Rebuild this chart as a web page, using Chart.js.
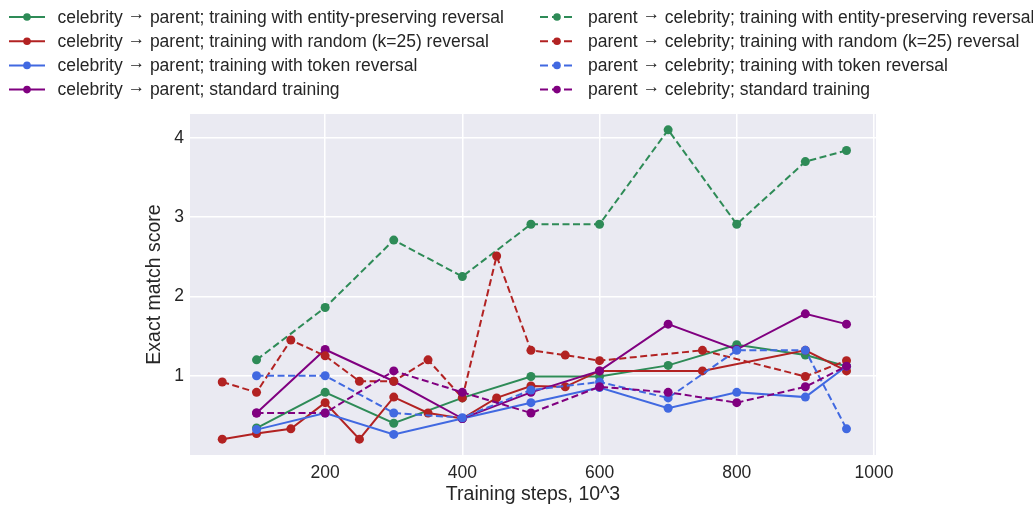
<!DOCTYPE html>
<html>
<head>
<meta charset="utf-8">
<script src="https://cdn.jsdelivr.net/npm/chart.js@4.4.0/dist/chart.umd.min.js"></script>
<style>
html, body { margin: 0; padding: 0; background: #fff; }
</style>
</head>
<body>
<canvas id="chart" width="1033" height="506"></canvas>
<script>
// steps (x 10^3)
const stepsFull = [50, 100, 150, 200, 250, 300, 350, 400, 450, 500, 550, 600, 750, 900, 960];
const stepsMain = [100, 200, 300, 400, 500, 600, 700, 800, 900, 960];

// celebrity -> parent
const cpEntity   = [0.34, 0.79, 0.40, 0.72, 0.99, 0.99, 1.13, 1.39, 1.26, 1.12];
const cpRandom   = [0.20, 0.27, 0.33, 0.66, 0.20, 0.73, 0.53, 0.46, 0.72, 0.87, 0.86, 1.06, 1.06, 1.32, 1.06];
const cpToken    = [0.32, 0.53, 0.26, 0.46, 0.66, 0.85, 0.59, 0.79, 0.73, 1.12];
const cpStandard = [0.53, 1.33, 0.93, 0.46, 0.79, 1.06, 1.65, 1.33, 1.78, 1.65];

// parent -> celebrity
const pcEntity   = [1.20, 1.86, 2.71, 2.25, 2.91, 2.91, 4.10, 2.91, 3.70, 3.84];
const pcRandom   = [0.92, 0.79, 1.45, 1.25, 0.93, 0.93, 1.20, 0.72, 2.51, 1.32, 1.26, 1.19, 1.32, 0.99, 1.19];
const pcToken    = [1.00, 1.00, 0.53, 0.47, 0.82, 0.92, 0.72, 1.32, 1.32, 0.33];
const pcStandard = [0.53, 0.53, 1.06, 0.79, 0.53, 0.86, 0.79, 0.66, 0.86, 1.12];

const xTicks = [200, 400, 600, 800, 1000];
const yTicks = [1, 2, 3, 4];

const GREEN = '#2e8b57', RED = '#b22222', BLUE = '#4169e1', PURPLE = '#800080';
const TXT = '#262626';
const FONT = '"Liberation Sans", Arial, sans-serif';

function pts(xs, ys) {
    return ys.map((y, i) => ({ x: xs[i], y: y }));
}

function serie(label, xs, ys, color, dashed) {
    return {
        label: label,
        data: pts(xs, ys),
        borderColor: color,
        backgroundColor: color,
        pointBackgroundColor: color,
        pointBorderWidth: 0,
        pointRadius: 4.5,
        borderWidth: 2,
        borderDash: dashed ? [7, 3.5] : [],
        tension: 0
    };
}

let datasets = [
    serie('celebrity \u2192 parent; training with entity-preserving reversal', stepsMain, cpEntity, GREEN, false),
    serie('celebrity \u2192 parent; training with random (k=25) reversal', stepsFull, cpRandom, RED, false),
    serie('celebrity \u2192 parent; training with token reversal', stepsMain, cpToken, BLUE, false),
    serie('celebrity \u2192 parent; standard training', stepsMain, cpStandard, PURPLE, false),
    serie('parent \u2192 celebrity; training with entity-preserving reversal', stepsMain, pcEntity, GREEN, true),
    serie('parent \u2192 celebrity; training with random (k=25) reversal', stepsFull, pcRandom, RED, true),
    serie('parent \u2192 celebrity; training with token reversal', stepsMain, pcToken, BLUE, true),
    serie('parent \u2192 celebrity; standard training', stepsMain, pcStandard, PURPLE, true)
];
// later series on top, like matplotlib
datasets.forEach((d, i) => { d.order = datasets.length - i; });

const bgPlugin = {
    id: 'bg',
    beforeDraw(chart) {
        const a = chart.chartArea;
        const ctx = chart.ctx;
        ctx.save();
        ctx.fillStyle = '#eaeaf2';
        ctx.fillRect(a.left, a.top, a.right - a.left, a.bottom - a.top);
        ctx.restore();
    }
};

// two column legend on top
const legendPlugin = {
    id: 'twoColLegend',
    afterDraw(chart) {
        const ctx = chart.ctx;
        ctx.save();
        ctx.font = '17.5px ' + FONT;
        ctx.textBaseline = 'middle';
        chart.data.datasets.forEach((ds, i) => {
            const col = i < 4 ? 0 : 1;
            const y = 17 + (i % 4) * 24.2;
            const x0 = col === 0 ? 9 : 540;
            const x1 = col === 0 ? 45 : 574;
            ctx.strokeStyle = ds.borderColor;
            ctx.lineWidth = 2;
            ctx.setLineDash(ds.borderDash.length ? [8, 4] : []);
            ctx.beginPath();
            ctx.moveTo(x0, y);
            ctx.lineTo(x1, y);
            ctx.stroke();
            ctx.setLineDash([]);
            ctx.fillStyle = ds.borderColor;
            ctx.beginPath();
            ctx.arc((x0 + x1) / 2, y, 3.8, 0, Math.PI * 2);
            ctx.fill();

            // label in pieces: the thin arrow sits a bit higher than in Liberation
            ctx.fillStyle = TXT;
            let x = col === 0 ? 57.5 : 588;
            const parts = ds.label.split('\u2192');
            parts.forEach((p, k) => {
                if (k > 0) {
                    ctx.fillText('\u2192', x, y - 2.5);
                    x += ctx.measureText('\u2192').width;
                }
                ctx.fillText(p, x, y + 1);
                x += ctx.measureText(p).width;
            });
        });
        ctx.restore();
    }
};

new Chart(document.getElementById('chart'), {
    type: 'line',
    data: { datasets: datasets },
    options: {
        responsive: false,
        animation: false,
        layout: { padding: { top: 114, right: 157, left: 0, bottom: 0 } },
        plugins: {
            legend: { display: false },
            tooltip: { enabled: false }
        },
        scales: {
            x: {
                type: 'linear',
                min: 3,
                max: 1003,
                afterBuildTicks: s => { s.ticks = xTicks.map(v => ({ value: v })); },
                afterFit: s => { s.height = 51; },
                grid: { color: '#ffffff', lineWidth: 1.5, drawTicks: false },
                border: { display: false },
                ticks: {
                    color: TXT, padding: 8, font: { family: FONT, size: 17.5 },
                    callback: v => String(v)
                },
                title: {
                    display: true,
                    text: 'Training steps, 10^3',
                    color: TXT,
                    font: { family: FONT, size: 19.5 },
                    padding: { top: 0, bottom: 0 }
                }
            },
            y: {
                min: 0,
                max: 4.3,
                afterBuildTicks: s => { s.ticks = yTicks.map(v => ({ value: v })); },
                afterFit: s => { s.width = 190; },
                grid: { color: '#ffffff', lineWidth: 1.5, drawTicks: false },
                border: { display: false },
                ticks: {
                    color: TXT, padding: 6, font: { family: FONT, size: 17.5 },
                    callback: v => String(v)
                },
                title: {
                    display: true,
                    text: 'Exact match score',
                    color: TXT,
                    font: { family: FONT, size: 19.5 },
                    padding: { top: 143, bottom: 0 }
                }
            }
        }
    },
    plugins: [bgPlugin, legendPlugin]
});
</script>
</body>
</html>
